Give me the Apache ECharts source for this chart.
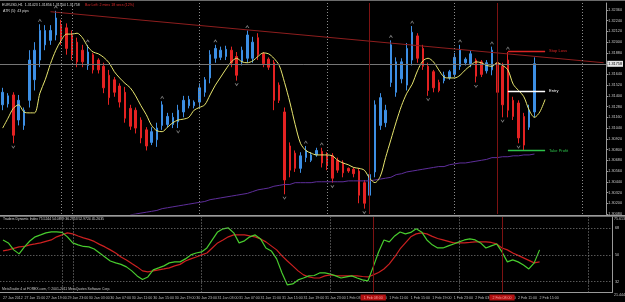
<!DOCTYPE html>
<html><head><meta charset="utf-8">
<script src="https://cdn.jsdelivr.net/npm/echarts@6/dist/echarts.min.js"></script>
<style>html,body{margin:0;padding:0;background:#000;}#c{width:625px;height:302px;}</style>
</head><body><div id="c"></div><script>
// ---------- DATA ----------
const headerText = 'EURUSD,H1  1.31423 1.31856 1.31504 1.31758';
const barLeftText = 'Bar Left: 2 mins 18 secs (12%)';
const atrText = 'ATR (5): 43 pips';
const tdiText = 'Traders Dynamic Index 75.5244 54.0899 36.2953 52.9724 45.2635';
const footerText = 'MetaTrader 4 at FOREX.com, \u00a9 2001-2011 MetaQuotes Software Corp.';

const tickLabels = ['27 Jan 2012','27 Jan 15:00','27 Jan 19:00','29 Jan 23:00','30 Jan 03:00','30 Jan 07:00',
 '30 Jan 11:00','30 Jan 15:00','30 Jan 19:00','30 Jan 23:00','31 Jan 03:00','31 Jan 07:00','31 Jan 11:00',
 '31 Jan 15:00','31 Jan 19:00','31 Jan 23:00','1 Feb 03:00','1 Feb 07:00','1 Feb 11:00','1 Feb 15:00',
 '1 Feb 19:00','1 Feb 23:00','2 Feb 03:00','2 Feb 07:00','2 Feb 11:00','2 Feb 15:00'];
const priceTicks = {min: 1.3008, interval: 0.0012, max: 1.324375};
const tdiLevels = [68, 50, 32];
const tdiRange = {min: 24.6, max: 75.6, topLabel: '75.613', bottomLabel: '21.444'};

const opens = [1.3130,1.3131,1.3141,1.3113,1.3107,1.3135,1.3158,1.3180,1.3197,1.3202,
1.3208,1.3219,1.3216,1.3208,1.3200,1.3191,1.3174,1.3186,1.3180,1.3173,
1.3163,1.3158,1.3151,1.3144,1.3126,1.3124,1.3113,1.3102,1.3088,1.3091,
1.3107,1.3108,1.3108,1.3111,1.3122,1.3129,1.3129,1.3133,1.3144,1.3160,
1.3182,1.3183,1.3184,1.3191,1.3184,1.3178,1.3182,1.3182,1.3205,1.3187,
1.3181,1.3177,1.3152,1.3122,1.3084,1.3076,1.3059,1.3071,1.3068,1.3074,
1.3078,1.3074,1.3073,1.3068,1.3065,1.3059,1.3058,1.3056,1.3043,1.3029,
1.3055,1.3107,1.3110,1.3155,1.3144,1.3159,1.3152,1.3180,1.3207,1.3193,
1.3173,1.3167,1.3155,1.3157,1.3160,1.3164,1.3173,1.3177,1.3176,1.3180,
1.3178,1.3168,1.3169,1.3177,1.3173,1.3180,1.3135,1.3132,1.3117,1.3105,
1.3122];
const closes = [1.3144,1.3140,1.3096,1.3135,1.3124,1.3180,1.3191,1.3213,1.3213,1.3213,
1.3227,1.3202,1.3193,1.3186,1.3178,1.3178,1.3189,1.3169,1.3169,1.3149,
1.3138,1.3144,1.3133,1.3115,1.3106,1.3104,1.3093,1.3084,1.3100,1.3104,
1.3130,1.3117,1.3116,1.3124,1.3135,1.3136,1.3133,1.3149,1.3158,1.3186,
1.3193,1.3191,1.3192,1.3177,1.3163,1.3191,1.3208,1.3200,1.3186,1.3176,
1.3172,1.3135,1.3135,1.3046,1.3057,1.3059,1.3073,1.3079,1.3074,1.3079,
1.3065,1.3062,1.3048,1.3057,1.3054,1.3056,1.3053,1.3029,1.3020,1.3052,
1.3130,1.3138,1.3124,1.3197,1.3178,1.3178,1.3193,1.3211,1.3182,1.3173,
1.3146,1.3149,1.3146,1.3163,1.3167,1.3183,1.3191,1.3181,1.3187,1.3162,
1.3164,1.3177,1.3191,1.3144,1.3130,1.3124,1.3117,1.3093,1.3085,1.3124,
1.3176];
const lows = [1.3124,1.3127,1.3087,1.3107,1.3102,1.3127,1.3146,1.3172,1.3191,1.3197,
1.3202,1.3197,1.3186,1.3180,1.3172,1.3172,1.3169,1.3165,1.3165,1.3143,
1.3130,1.3139,1.3127,1.3110,1.3102,1.3098,1.3087,1.3079,1.3085,1.3083,
1.3102,1.3105,1.3104,1.3104,1.3116,1.3126,1.3126,1.3127,1.3139,1.3154,
1.3177,1.3180,1.3180,1.3172,1.3157,1.3174,1.3177,1.3177,1.3180,1.3172,
1.3169,1.3124,1.3132,1.3030,1.3049,1.3055,1.3054,1.3066,1.3066,1.3072,
1.3060,1.3057,1.3043,1.3054,1.3049,1.3054,1.3049,1.3020,1.3014,1.3024,
1.3049,1.3102,1.3105,1.3150,1.3139,1.3154,1.3146,1.3174,1.3177,1.3169,
1.3140,1.3144,1.3144,1.3154,1.3158,1.3161,1.3169,1.3174,1.3172,1.3155,
1.3161,1.3165,1.3163,1.3139,1.3116,1.3116,1.3113,1.3087,1.3079,1.3102,
1.3116];
const highs = [1.3149,1.3143,1.3144,1.3141,1.3127,1.3191,1.3200,1.3220,1.3219,1.3219,
1.3235,1.3225,1.3221,1.3213,1.3205,1.3197,1.3197,1.3188,1.3182,1.3177,
1.3169,1.3161,1.3154,1.3150,1.3130,1.3127,1.3116,1.3105,1.3105,1.3110,
1.3134,1.3121,1.3121,1.3130,1.3140,1.3140,1.3135,1.3154,1.3161,1.3191,
1.3197,1.3195,1.3196,1.3195,1.3189,1.3195,1.3213,1.3206,1.3210,1.3189,
1.3183,1.3180,1.3155,1.3127,1.3088,1.3079,1.3077,1.3084,1.3077,1.3082,
1.3082,1.3077,1.3076,1.3071,1.3068,1.3060,1.3060,1.3059,1.3046,1.3057,
1.3135,1.3143,1.3130,1.3202,1.3183,1.3182,1.3199,1.3218,1.3210,1.3197,
1.3177,1.3169,1.3158,1.3167,1.3169,1.3188,1.3197,1.3183,1.3191,1.3182,
1.3180,1.3180,1.3195,1.3180,1.3177,1.3189,1.3139,1.3135,1.3121,1.3130,
1.3183];
const maYellow = [1.3104,1.3115,1.3126,1.3130,1.3122,1.3121,1.3121,1.3143,1.3158,1.3176,
1.3191,1.3202,1.3209,1.3209,1.3210,1.3205,1.3195,1.3189,1.3187,1.3183,
1.3177,1.3167,1.3160,1.3154,1.3149,1.3140,1.3129,1.3119,1.3107,1.3101,
1.3100,1.3105,1.3110,1.3113,1.3114,1.3116,1.3124,1.3127,1.3130,1.3141,
1.3152,1.3161,1.3170,1.3178,1.3182,1.3178,1.3177,1.3179,1.3184,1.3188,
1.3187,1.3182,1.3174,1.3155,1.3133,1.3108,1.3087,1.3079,1.3076,1.3074,
1.3074,1.3074,1.3073,1.3068,1.3065,1.3063,1.3060,1.3059,1.3057,1.3048,
1.3043,1.3050,1.3071,1.3091,1.3111,1.3129,1.3143,1.3153,1.3168,1.3179,
1.3182,1.3178,1.3169,1.3161,1.3160,1.3160,1.3163,1.3169,1.3174,1.3178,
1.3177,1.3174,1.3173,1.3177,1.3174,1.3169,1.3153,1.3146,1.3139,1.3124,
1.3116,1.3122,1.3136];
const maPurple = [null,null,null,null,null,null,null,null,null,null,
null,null,null,null,null,null,null,null,null,null,
null,null,null,null,1.3007,1.3008,1.3009,1.3010,1.3011,1.3012,
1.3014,1.3015,1.3016,1.3017,1.3018,1.3019,1.3020,1.3021,1.3022,1.3024,
1.3025,1.3026,1.3027,1.3028,1.3029,1.3030,1.3031,1.3033,1.3035,1.3036,
1.3037,1.3039,1.3040,1.3041,1.3041,1.3043,1.3043,1.3043,1.3043,1.3044,
1.3044,1.3044,1.3044,1.3044,1.3044,1.3045,1.3045,1.3045,1.3045,1.3045,
1.3046,1.3047,1.3048,1.3049,1.3052,1.3053,1.3055,1.3056,1.3057,1.3058,
1.3059,1.3060,1.3061,1.3061,1.3063,1.3064,1.3065,1.3065,1.3066,1.3067,
1.3068,1.3069,1.3071,1.3071,1.3072,1.3072,1.3073,1.3073,1.3074,1.3074,
1.3075];
const tdiGreen = [60.1,58.1,53.4,50.7,55.4,59.4,62.2,63.5,64.9,65.5,
65.5,65.2,62.2,58.1,56.8,55.7,55.4,54.0,51.3,48.6,
45.9,44.6,43.6,41.9,39.2,35.8,33.4,35.1,39.9,41.2,
42.6,44.6,45.3,45.3,47.3,50.0,51.3,52.0,54.7,60.1,
65.5,67.6,68.2,64.9,58.1,59.5,62.2,63.5,60.8,54.7,
52.7,47.3,37.8,29.7,30.4,33.1,34.4,35.8,36.1,37.8,
37.8,37.1,35.8,34.4,35.1,35.8,34.4,33.1,32.4,41.9,
52.0,60.1,58.8,62.8,65.5,64.2,65.2,67.6,65.5,60.1,
56.8,54.7,54.7,56.1,57.4,58.8,60.1,60.8,60.1,58.1,
54.7,56.1,57.4,52.0,45.3,46.6,45.3,43.2,40.5,44.6,
53.4];
const tdiRed = [52.7,53.4,54.4,55.4,55.7,56.8,57.4,58.1,59.1,60.1,
62.2,63.5,64.9,64.2,62.8,61.5,60.5,59.1,57.1,55.4,
53.4,51.3,48.6,46.6,44.2,41.9,39.2,38.5,39.2,39.9,
40.5,41.2,42.6,43.6,45.9,47.3,48.6,50.0,51.3,54.7,
58.1,60.1,62.2,63.5,63.5,63.5,62.8,62.2,60.8,58.8,
56.1,53.4,49.3,45.9,42.6,39.2,36.5,35.1,34.4,34.4,
35.8,36.5,36.1,35.8,35.8,35.8,35.8,35.4,35.1,36.5,
38.1,40.5,43.9,48.6,54.0,58.1,62.2,64.2,64.9,64.2,
62.5,61.1,60.1,59.1,58.1,58.1,58.1,58.4,58.8,58.8,
58.8,58.4,57.4,54.7,53.4,51.3,49.7,48.0,46.3,44.6,
45.3];
const fractalUp = [7,10,16,30,40,46,57,60,73,77,86,92,95];
const fractalDown = [2,33,44,53,62,68,80,89,94,97];
const trendline = [{bar: 9, price: 1.3234}, {bar: 113, price: 1.3177}];
const currentPrice = 1.31758;
const tradeLevels = [
  {name: 'Stop Loss', price: 1.3190, from: 95, to: 102},
  {name: 'Entry', price: 1.3145, from: 95, to: 102},
  {name: 'Take Profit', price: 1.3079, from: 95, to: 102}
];
const daySeparators = [11, 13, 37, 61, 85, 109];
const markedBars = [{bar: 69, label: '1 Feb 08:00'}, {bar: 93, label: '2 Feb 08:00'}];

// ---------- CHART ----------
const NB = 114;
const cats = Array.from({length: NB}, (_, i) => String(i));
const FONT = 'Liberation Sans';
const BLUE = '#3d8fe4', RED = '#e42222';
const levelColors = {'Stop Loss': '#dc2424', 'Entry': '#ffffff', 'Take Profit': '#2cc24a'};
const candleData = opens.map((o, i) => [o, closes[i], lows[i], highs[i]]);
const upPath = 'path://M0,6 L3,0 L6,6 L4.6,6 L3,2.6 L1.4,6 Z';
const downPath = 'path://M0,0 L3,6 L6,0 L4.6,0 L3,3.4 L1.4,0 Z';

const vLinesMain = daySeparators.map(b => ({xAxis: b, lineStyle: {color: '#8c8c8c', type: [1, 2], width: 1}}))
  .concat(markedBars.map(m => ({xAxis: m.bar, lineStyle: {color: '#7c1212', type: 'solid', width: 1}})));
const vLinesSub = daySeparators.map(b => ({xAxis: b, lineStyle: {color: '#8c8c8c', type: [1, 2], width: 1}}))
  .concat(markedBars.map(m => ({xAxis: m.bar, lineStyle: {color: '#7c1212', type: 'solid', width: 1},
    label: {show: true, position: 'start', formatter: m.label, backgroundColor: '#b01010', color: '#ff9c9c',
      fontSize: 3.6, fontFamily: FONT, padding: [1, 3], distance: 2}})));

const mainMarks = [
  [{coord: [trendline[0].bar, trendline[0].price], lineStyle: {color: '#8e1e1e', width: 1, type: 'solid'}},
   {coord: [trendline[1].bar, trendline[1].price]}],
  {yAxis: currentPrice, lineStyle: {color: '#767676', width: 1, type: 'solid'},
   label: {show: true, position: 'end', formatter: currentPrice.toFixed(5), backgroundColor: '#e6e6e6',
     color: '#000', fontSize: 3.8, fontFamily: FONT, padding: [1, 1], distance: 1}}
].concat(tradeLevels.map(t => [
  {coord: [t.from, t.price], lineStyle: {color: levelColors[t.name], width: 1.4, type: 'solid'},
   label: {show: true, position: 'end', formatter: t.name, color: levelColors[t.name], fontSize: 4, fontFamily: FONT, distance: 4}},
  {coord: [t.to, t.price]}
])).concat(vLinesMain);

const subMarks = tdiLevels.map(v => ({yAxis: v, lineStyle: {color: '#808080', type: [1, 2], width: 1},
  label: {show: true, position: 'end', formatter: String(v), color: '#c6c6c6', fontSize: 3.8, fontFamily: FONT, distance: 3}}))
  .concat(vLinesSub);

const chart = echarts.init(document.getElementById('c'), null, {renderer: 'canvas'});
chart.setOption({
  backgroundColor: '#000',
  animation: false,
  grid: [
    {left: 0, right: 13, top: 3, height: 211},
    {left: 0, right: 13, top: 217, height: 75.5}
  ],
  xAxis: [
    {type: 'category', gridIndex: 0, data: cats, axisLine: {show: false}, axisTick: {show: false},
     axisLabel: {show: false}, splitLine: {show: false}},
    {type: 'category', gridIndex: 1, data: cats, axisLine: {show: true, lineStyle: {color: '#9a9a9a'}},
     axisTick: {show: false}, splitLine: {show: false},
     axisLabel: {interval: 3, formatter: (v, i) => tickLabels[i / 4] || '', align: 'left',
       fontSize: 3.6, color: '#bdbdbd', margin: 3, fontFamily: FONT}}
  ],
  yAxis: [
    {type: 'value', gridIndex: 0, position: 'right', min: priceTicks.min, max: priceTicks.max, interval: priceTicks.interval,
     axisLine: {show: true, lineStyle: {color: '#9a9a9a'}}, axisTick: {show: true, length: 2, lineStyle: {color: '#9a9a9a'}},
     splitLine: {show: false},
     axisLabel: {formatter: v => v.toFixed(5), fontSize: 3.8, color: '#c6c6c6', margin: 2, showMaxLabel: false, fontFamily: FONT}},
    {type: 'value', gridIndex: 1, position: 'right', min: tdiRange.min, max: tdiRange.max,
     axisLine: {show: true, lineStyle: {color: '#9a9a9a'}}, axisTick: {show: false}, axisLabel: {show: false}, splitLine: {show: false}}
  ],
  series: [
    {type: 'candlestick', xAxisIndex: 0, yAxisIndex: 0, data: candleData, barWidth: 2,
     itemStyle: {color: BLUE, color0: RED, borderColor: BLUE, borderColor0: RED, borderWidth: 1}, z: 2},
    {type: 'line', xAxisIndex: 0, yAxisIndex: 0, data: maPurple, symbol: 'none', lineStyle: {color: '#5e2e9a', width: 1}, z: 3},
    {type: 'line', xAxisIndex: 0, yAxisIndex: 0, data: maYellow, symbol: 'none', smooth: 0.3,
     lineStyle: {color: '#e8e66e', width: 1}, z: 4},
    {type: 'scatter', xAxisIndex: 0, yAxisIndex: 0, data: fractalUp.map(i => [i, highs[i]]), symbol: upPath,
     symbolSize: [4, 3], symbolOffset: [0, -4], itemStyle: {color: '#a6a6a6'}, z: 5},
    {type: 'scatter', xAxisIndex: 0, yAxisIndex: 0, data: fractalDown.map(i => [i, lows[i]]), symbol: downPath,
     symbolSize: [4, 3], symbolOffset: [0, 4], itemStyle: {color: '#a6a6a6'}, z: 5},
    {type: 'line', xAxisIndex: 0, yAxisIndex: 0, data: [], z: 1,
     markLine: {silent: true, precision: 5, symbol: ['none', 'none'], label: {show: false}, data: mainMarks}},
    {type: 'line', xAxisIndex: 1, yAxisIndex: 1, data: tdiRed, symbol: 'none', lineStyle: {color: '#cc2020', width: 1.2}, z: 3},
    {type: 'line', xAxisIndex: 1, yAxisIndex: 1, data: tdiGreen, symbol: 'none', lineStyle: {color: '#48cc2e', width: 1.2}, z: 4},
    {type: 'line', xAxisIndex: 1, yAxisIndex: 1, data: [], z: 1,
     markLine: {silent: true, precision: 3, symbol: ['none', 'none'], label: {show: false}, data: subMarks}}
  ],
  graphic: [
    {type: 'rect', shape: {x: 0, y: 0, width: 625, height: 1}, style: {fill: '#6b6b6b'}, silent: true},
    {type: 'rect', shape: {x: 0, y: 215.2, width: 625, height: 1.2}, style: {fill: '#cfcfcf'}, silent: true},
    {type: 'text', x: 2, y: 2.5, style: {text: headerText, fill: '#d8d8d8', fontSize: 3.6, fontFamily: FONT}},
    {type: 'text', x: 85, y: 2.5, style: {text: barLeftText, fill: '#e02a2a', fontSize: 3.6, fontFamily: FONT}},
    {type: 'text', x: 3, y: 9, style: {text: atrText, fill: '#d8d8d8', fontSize: 3.6, fontFamily: FONT}},
    {type: 'text', x: 3, y: 218, style: {text: tdiText, fill: '#d8d8d8', fontSize: 3.4, fontFamily: FONT}},
    {type: 'text', x: 2, y: 287.5, style: {text: footerText, fill: '#c8c8c8', fontSize: 3.4, fontFamily: FONT}},
    {type: 'text', x: 614, y: 216.8, style: {text: tdiRange.topLabel, fill: '#c6c6c6', fontSize: 3.6, fontFamily: FONT}},
    {type: 'text', x: 614, y: 292.5, style: {text: tdiRange.bottomLabel, fill: '#c6c6c6', fontSize: 3.6, fontFamily: FONT}}
  ]
});
</script></body></html>
